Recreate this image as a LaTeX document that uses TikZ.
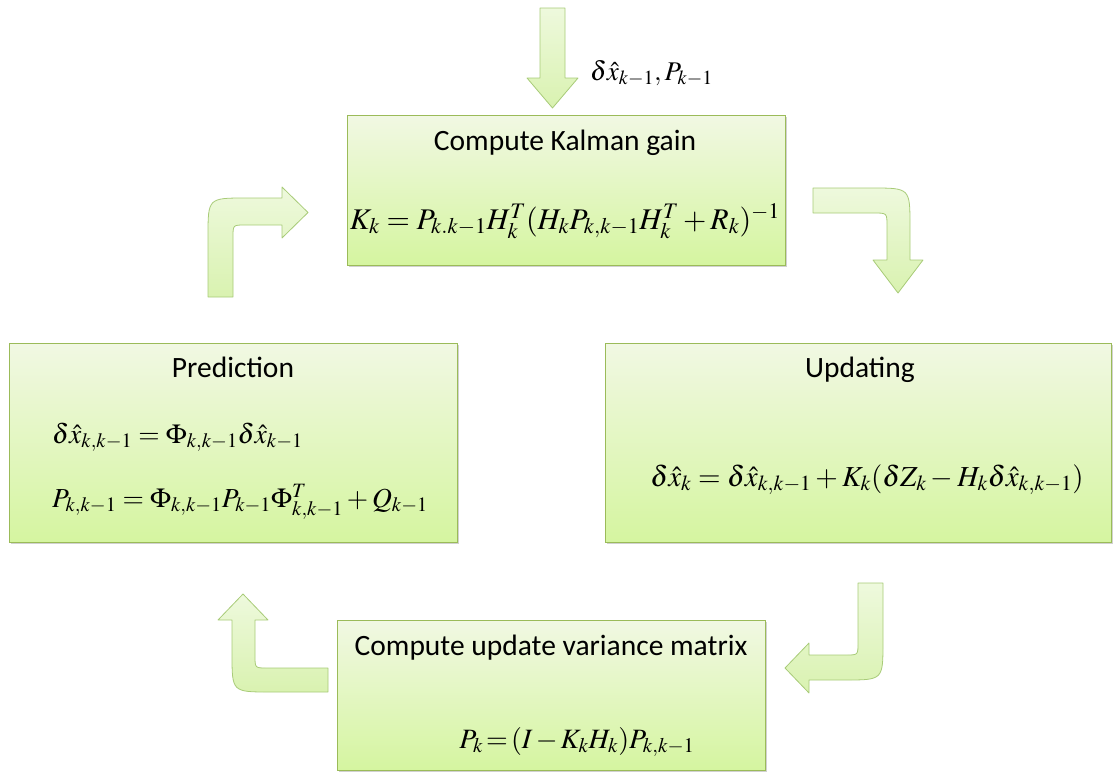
\documentclass[tikz,border=0pt]{standalone}
\usepackage{mathptmx}
\usepackage{fontspec}
\setmainfont{Carlito}
\usetikzlibrary{shadows}
\definecolor{boxtop}{HTML}{F1F8E3}
\definecolor{boxbot}{HTML}{D5F5A0}
\definecolor{boxline}{HTML}{9BBB59}
\definecolor{arrtop}{HTML}{EEF9DD}
\definecolor{arrbot}{HTML}{D9F2B0}
\definecolor{arrline}{HTML}{A8CB78}
\tikzset{
  box/.style={draw=boxline, line width=0.8pt, top color=boxtop, bottom color=boxbot,
    drop shadow={shadow xshift=2pt, shadow yshift=-2pt, opacity=0.3, fill=black!60},
    anchor=north west, inner sep=0pt, outer sep=0pt},
  ttl/.style={font=\fontsize{29.5}{34}\selectfont, anchor=base, inner sep=0pt},
  eq/.style={anchor=base, inner sep=0pt},
  barrow/.style={draw=arrline, line width=0.8pt, top color=arrtop, bottom color=arrbot, line join=round}
}
\begin{document}
\begin{tikzpicture}[x=1pt,y=-1pt]
\useasboundingbox (0,0) rectangle (1113,771);
% boxes
\node[box, minimum width=438pt, minimum height=150pt] (kal) at (347,115) {};
\node[box, minimum width=448pt, minimum height=199pt] (pred) at (9,343) {};
\node[box, minimum width=506pt, minimum height=199pt] (upd) at (605,343) {};
\node[box, minimum width=428pt, minimum height=150pt] (var) at (337,620) {};
% titles
\node[ttl] (kalt) at (565,150) {Compute Kalman gain};
\node[ttl] (predt) at (233,377) {Prediction};
\node[ttl] (updt) at (860,377) {Updating};
\node[ttl] (vart) at (551,655) {Compute update variance matrix};
% formulas
\node[eq, font=\fontsize{30}{36}\selectfont] (kale) at (565,229) {$K_k = P_{k.k-1}H_k^T(H_kP_{k,k-1}H_k^T+R_k)^{-1}$};
\node[eq, font=\fontsize{27.5}{33}\selectfont, anchor=base west] (prede1) at (52,443) {$\delta\hat{x}_{k,k-1} = \Phi_{k,k-1}\delta\hat{x}_{k-1}$};
\node[eq, font=\fontsize{27.5}{33}\selectfont, anchor=base west] (prede2) at (52,507) {$P_{k,k-1} = \Phi_{k,k-1}P_{k-1}\Phi_{k,k-1}^T + Q_{k-1}$};
\node[eq, font=\fontsize{29}{35}\selectfont] (upde) at (867,486) {$\delta\hat{x}_k = \delta\hat{x}_{k,k-1} + K_k(\delta Z_k - H_k\delta\hat{x}_{k,k-1})$};
\node[eq, font=\fontsize{28}{33}\selectfont] (vare) at (577,748) {$\thickmuskip=2mu\medmuskip=2mu P_k = (I-K_kH_k)P_{k,k-1}$};
\node[eq, font=\fontsize{27}{32}\selectfont, anchor=base west] (inlab) at (590,80) {$\delta\hat{x}_{k-1}, P_{k-1}$};
% block arrows
\draw[barrow] (540,8) -- (565,8) -- (565,78) -- (578,78) -- (552.5,108) -- (527,78) -- (540,78) -- cycle;
\draw[barrow] (813,188) -- (872,188) .. controls (910,188) .. (910,226) -- (910,260) -- (923,260)
  -- (898,293) -- (873,260) -- (887,260) -- (887,226) .. controls (887,213) .. (874,213) -- (813,213) -- cycle;
\draw[barrow] (883,583) -- (883,642) .. controls (883,680) .. (845,680) -- (809,680) -- (809,693)
  -- (785,668) -- (809,643) -- (809,655) -- (846,655) .. controls (858,655) .. (858,643) -- (858,583) -- cycle;
\draw[barrow] (328,692) -- (270,692) .. controls (232,692) .. (232,654) -- (232,620) -- (218,620)
  -- (243,594) -- (268,620) -- (255,620) -- (255,656) .. controls (255,668) .. (267,668) -- (328,668) -- cycle;
\draw[barrow] (208,297) -- (208,236) .. controls (208,198) .. (246,198) -- (282,198) -- (282,187)
  -- (308,212.5) -- (282,238) -- (282,225) -- (245,225) .. controls (233,225) .. (233,237) -- (233,297) -- cycle;
\end{tikzpicture}
\end{document}
